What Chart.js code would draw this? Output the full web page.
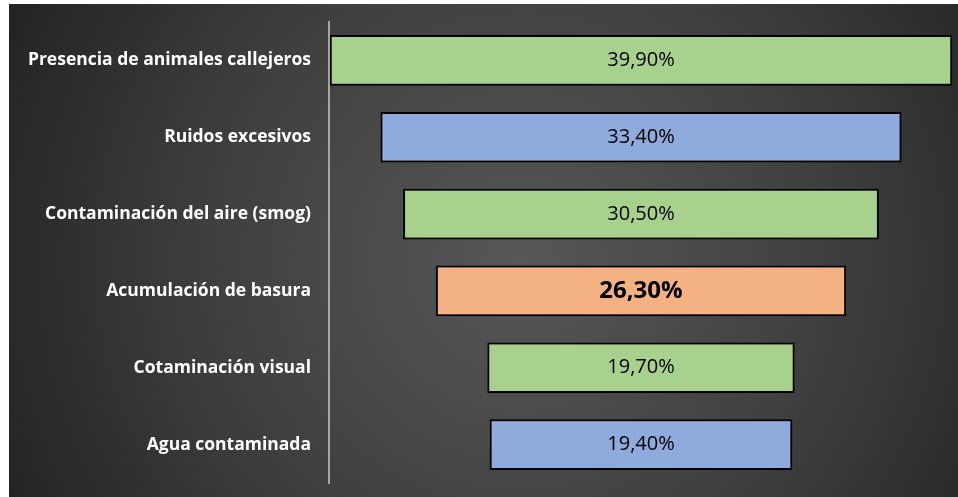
<!DOCTYPE html>
<html>
<head>
<meta charset="utf-8">
<script src="https://cdn.jsdelivr.net/npm/chart.js@4"></script>
<style>
  html, body { margin: 0; padding: 0; background: #fff; }
  #wrap { width: 958px; height: 497px; }
</style>
</head>
<body>
<div id="wrap"><canvas id="funnel"></canvas></div>
<script>
var categories = ['Presencia de animales callejeros', 'Ruidos excesivos', 'Contaminación del aire (smog)',
    'Acumulación de basura', 'Cotaminación visual', 'Agua contaminada'];
var values = [39.9, 33.4, 30.5, 26.3, 19.7, 19.4];
var colors = ['#A9D18E', '#8FAADC', '#A9D18E', '#F4B183', '#A9D18E', '#8FAADC'];
var highlight = 3;

// funnel: each bar is centered on 0
var spans = values.map(function (v) { return [-v / 2, v / 2]; });

var panelBg = {
    id: 'panelBg',
    beforeDraw: function (chart) {
        var c = chart.ctx;
        c.save();
        c.fillStyle = '#ffffff';
        c.fillRect(0, 0, chart.width, chart.height);
        var g = c.createRadialGradient(520, 260, 0, 520, 260, 560);
        g.addColorStop(0, '#575757');
        g.addColorStop(0.55, '#3f3f3f');
        g.addColorStop(1, '#242424');
        c.fillStyle = g;
        c.fillRect(9, 4, chart.width - 9, chart.height - 4);
        c.restore();
    }
};

var valueLabels = {
    id: 'valueLabels',
    afterDatasetsDraw: function (chart) {
        var c = chart.ctx;
        var meta = chart.getDatasetMeta(0);
        c.save();
        c.fillStyle = '#000';
        c.textAlign = 'center';
        c.textBaseline = 'middle';
        meta.data.forEach(function (bar, i) {
            c.font = i === highlight ? 'bold 24px "Open Sans"' : '20px "Open Sans"';
            var txt = values[i].toFixed(2).replace('.', ',') + '%';
            c.fillText(txt, (bar.x + bar.base) / 2, bar.y);
        });
        c.restore();
    }
};

var ctx = document.getElementById('funnel').getContext('2d');
var chart = new Chart(ctx, {
    type: 'bar',
    data: {
        labels: categories,
        datasets: [{
            data: spans,
            backgroundColor: colors,
            borderColor: '#000',
            borderWidth: 2,
            borderSkipped: false,
            categoryPercentage: 1,
            barPercentage: 0.66
        }]
    },
    options: {
        indexAxis: 'y',
        responsive: true,
        maintainAspectRatio: false,
        animation: false,
        layout: { padding: { top: 22, bottom: 14, right: 5, left: 0 } },
        plugins: {
            legend: { display: false },
            tooltip: { enabled: false }
        },
        scales: {
            x: {
                min: -20,
                max: 20,
                display: false
            },
            y: {
                grid: { display: false, drawTicks: false },
                border: { display: true, color: '#a6a6a6', width: 2 },
                ticks: {
                    color: '#ffffff',
                    padding: 18,
                    font: { family: 'Open Sans', size: 17.5, weight: 'bold' }
                },
                afterFit: function (scale) {
                    scale.width = 329;
                    scale.paddingTop = 0;
                    scale.paddingBottom = 0;
                }
            }
        }
    },
    plugins: [panelBg, valueLabels]
});
</script>
</body>
</html>
